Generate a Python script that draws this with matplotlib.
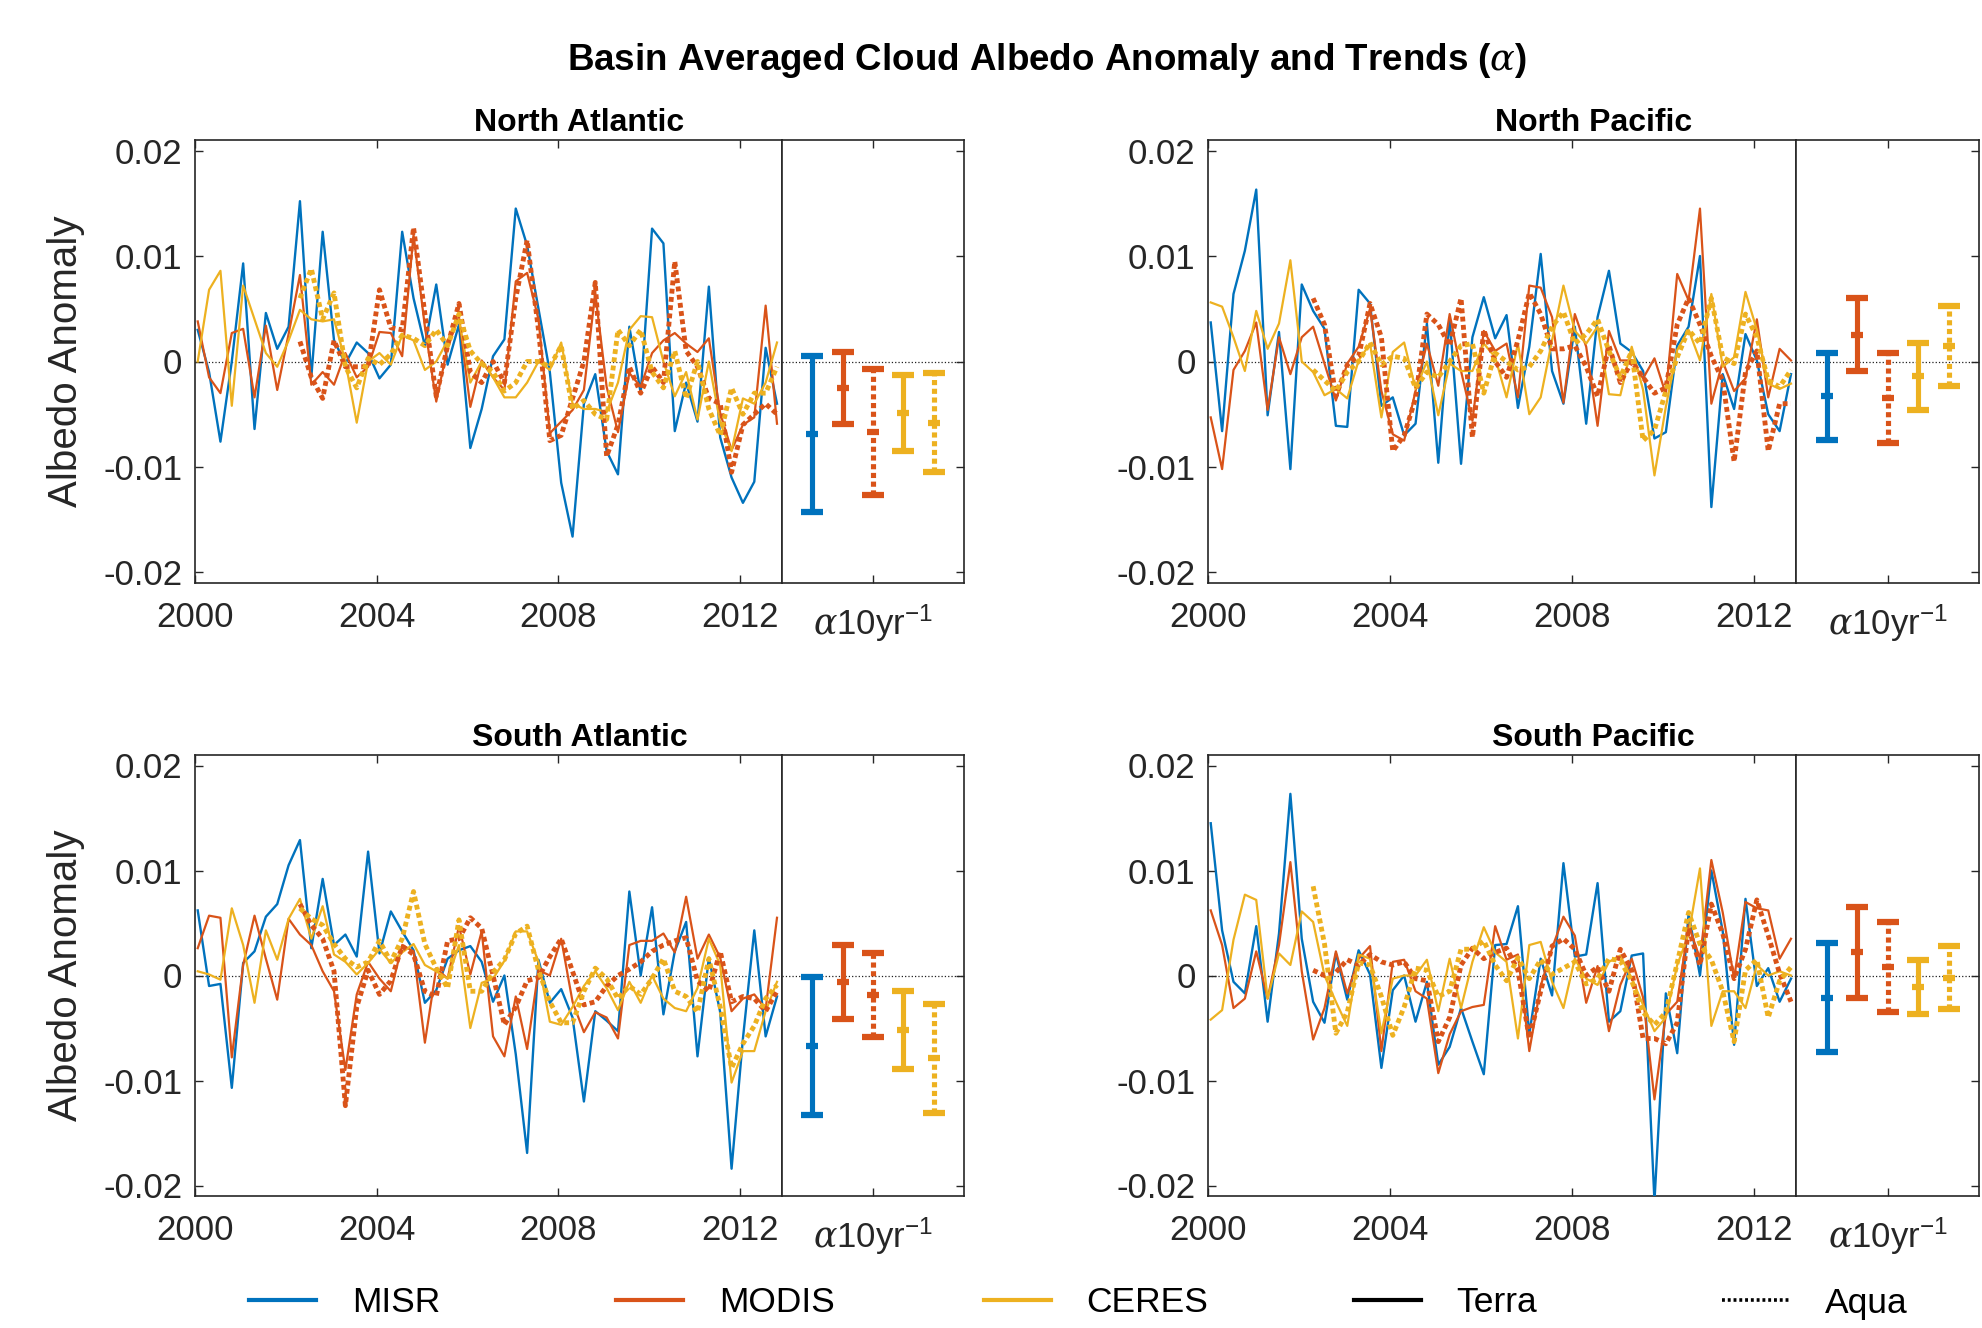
import numpy as np
import matplotlib
matplotlib.use("Agg")
import matplotlib.pyplot as plt
from matplotlib.lines import Line2D

plt.rcParams['font.family'] = ['Liberation Sans', 'DejaVu Sans']
plt.rcParams['axes.unicode_minus'] = False
plt.rcParams['mathtext.fontset'] = 'custom'
plt.rcParams['mathtext.rm'] = 'Liberation Sans'
plt.rcParams['mathtext.it'] = 'DejaVu Serif:italic'
plt.rcParams['mathtext.bf'] = 'Liberation Sans:bold'

# ---------------- data ----------------
# seasonal (quarterly) time stamps; Terra from 2000, Aqua from mid 2002
t_terra = 2000.06 + 0.25 * np.arange(52)
t_aqua = t_terra[9:]

na_misr = [0.003, -0.001, -0.0076, 0.0, 0.0093, -0.0064, 0.0046, 0.0012, 0.0033, 0.0152,
           -0.0015, 0.0123, 0.002, -0.0002, 0.0018, 0.0008, -0.0016, -0.0003, 0.0123, 0.006,
           0.0015, 0.0073, -0.0003, 0.0035, -0.0082, -0.0045, 0.0005, 0.0021, 0.0145, 0.011,
           0.005, -0.001, -0.0115, -0.0166, -0.004, -0.0012, -0.0085, -0.0107, 0.0033, -0.003,
           0.0126, 0.0112, -0.0066, -0.002, -0.0057, 0.0071, -0.0072, -0.011, -0.0134, -0.0114,
           0.0013, -0.004]
na_modis_terra = [0.0038, -0.0015, -0.003, 0.0027, 0.0031, -0.0034, 0.0034, -0.0027, 0.0026, 0.0082,
                  -0.0022, -0.001, -0.0022, 0.0008, -0.0015, -0.0005, 0.0028, 0.0027, 0.0005, 0.012,
                  0.0033, -0.0038, 0.0014, 0.0042, -0.0043, 0.0001, -0.0015, -0.0027, 0.0076, 0.0084,
                  0.004, -0.0068, -0.0057, -0.0046, -0.0027, 0.0065, -0.0024, -0.0067, -0.0011, -0.0024,
                  0.0008, 0.002, 0.0027, 0.0017, 0.0009, 0.0022, -0.0049, -0.0084, -0.006, -0.0053,
                  0.0053, -0.0059]
na_modis_aqua = [0.0019, -0.0015, -0.0035, 0.002, -0.0005, -0.0005, -0.0005, 0.0068, 0.0032, 0.003,
                 0.0127, 0.0045, -0.0033, 0.0015, 0.0055, -0.001, -0.002, 0.0, -0.002, 0.006,
                 0.0115, 0.003, -0.0075, -0.007, -0.0035, 0.0, 0.0075, -0.009, -0.006, -0.0005,
                 -0.003, -0.0005, -0.002, 0.0095, 0.001, -0.0005, -0.0035, -0.004, -0.0105, -0.006,
                 -0.005, -0.004, -0.005]
na_ceres_terra = [0.0, 0.0068, 0.0086, -0.0042, 0.0072, 0.004, 0.0008, -0.0005, 0.002, 0.0049,
                  0.004, 0.0038, 0.004, 0.0, -0.0058, 0.0, 0.0008, -0.0003, 0.0025, 0.002,
                  -0.0008, 0.0, 0.002, 0.004, -0.002, 0.0, -0.0015, -0.0034, -0.0034, -0.002,
                  0.0, -0.0008, 0.0018, -0.004, -0.0045, -0.0045, -0.0048, -0.002, 0.003, 0.0043,
                  0.0042, 0.0, -0.0033, -0.001, -0.0055, 0.0, -0.0058, -0.0085, -0.0035, -0.004,
                  -0.002, 0.0018]
na_ceres_aqua = [0.006, 0.0088, 0.004, 0.0065, -0.0005, -0.0025, 0.0003, -0.0003, 0.0007, 0.0025,
                 0.0022, 0.0015, 0.003, 0.0015, 0.0045, 0.001, -0.0002, -0.001, -0.0028, -0.002,
                 0.0, 0.0, -0.0005, 0.0015, -0.0045, -0.0037, -0.005, -0.0055, 0.003, 0.0015,
                 0.003, -0.001, -0.0025, 0.001, -0.0035, 0.0, -0.0045, -0.007, -0.0025, -0.005,
                 -0.003, -0.003, -0.0005]

np_misr = [0.0037, -0.0066, 0.0064, 0.0105, 0.0163, -0.0051, 0.0028, -0.0102, 0.0073, 0.0048,
           0.0031, -0.0061, -0.0062, 0.0068, 0.0055, -0.0042, -0.0034, -0.007, -0.0059, 0.0036,
           -0.0096, 0.004, -0.0097, 0.0023, 0.0061, 0.0022, 0.0044, -0.0044, 0.0014, 0.0102,
           -0.0009, -0.004, 0.0033, -0.0059, 0.0042, 0.0086, 0.0017, 0.0009, -0.0009, -0.0073,
           -0.0067, 0.0015, 0.0033, 0.01, -0.0138, -0.0012, -0.0045, 0.0026, 0.0001, -0.005,
           -0.0066, -0.0012]
np_modis_terra = [-0.0053, -0.0102, -0.0008, 0.001, 0.0037, -0.0046, 0.0023, -0.0012, 0.0023, 0.0033,
                  -0.0002, -0.0037, -0.0002, 0.0014, 0.005, -0.0028, -0.0069, -0.0075, -0.0028, 0.0017,
                  -0.0023, 0.0045, -0.0009, -0.0056, 0.0029, 0.001, 0.0017, -0.0034, 0.0072, 0.007,
                  0.0042, -0.0039, 0.0045, 0.0014, -0.0061, 0.0029, 0.0001, 0.0001, -0.0016, 0.0003,
                  -0.0031, 0.0083, 0.0058, 0.0145, -0.004, 0.0, -0.0028, -0.0016, 0.004, -0.0034,
                  0.0012, 0.0001]
np_modis_aqua = [0.006, 0.0035, -0.0033, -0.0003, 0.0005, 0.0055, 0.0023, -0.0085, -0.007, -0.0035,
                 0.0045, 0.0035, 0.0015, 0.006, -0.0072, 0.003, 0.0, -0.0015, 0.002, 0.0065,
                 0.0045, 0.0012, 0.0012, 0.0015, -0.0005, -0.0033, 0.0015, -0.002, 0.0, -0.0015,
                 -0.003, -0.0025, 0.0035, 0.006, 0.0035, 0.0005, -0.0018, -0.0095, -0.001, 0.001,
                 -0.0085, -0.004, -0.004]
np_ceres_terra = [0.0056, 0.0052, 0.0023, -0.0009, 0.0048, 0.0012, 0.0036, 0.0096, 0.0, -0.001,
                  -0.0032, -0.0026, -0.0035, 0.0001, 0.0017, -0.0053, 0.0009, 0.0018, -0.0026, 0.0,
                  -0.0051, -0.0002, -0.0009, -0.0009, 0.0017, 0.0004, -0.0034, 0.0017, -0.005, -0.0034,
                  0.002, 0.0072, 0.0029, 0.0017, 0.0033, -0.0031, -0.0032, 0.0014, -0.0027, -0.0108,
                  -0.0043, 0.0011, 0.003, 0.0001, 0.0064, -0.0005, 0.0004, 0.0066, 0.003, -0.0021,
                  -0.0026, -0.0021]
np_ceres_aqua = [-0.0008, -0.0018, -0.0028, -0.001, 0.0, 0.0018, -0.0003, 0.0005, 0.0003, -0.0025,
                 -0.001, -0.0015, 0.0, 0.0015, 0.0017, -0.003, 0.0008, 0.0, -0.0008, -0.0005,
                 0.001, 0.0033, 0.0047, 0.0017, 0.0026, 0.004, 0.001, -0.0015, 0.001, -0.0075,
                 -0.0065, -0.0028, 0.0004, 0.003, 0.0017, 0.006, 0.0004, -0.0002, 0.0045, 0.0023,
                 -0.0018, -0.0024, -0.0008]

sa_misr = [0.0062, -0.001, -0.0008, -0.0107, 0.0012, 0.0023, 0.0056, 0.0068, 0.0105, 0.0129,
           0.0026, 0.0092, 0.0029, 0.0039, 0.0018, 0.0118, 0.0021, 0.0061, 0.0042, 0.0024,
           -0.0026, -0.0014, 0.0016, 0.0024, 0.0028, 0.0013, -0.0025, 0.0, -0.0075, -0.0169,
           0.0015, -0.0026, -0.0013, -0.004, -0.012, -0.0034, -0.0043, -0.0053, 0.008, 0.0,
           0.0065, -0.0037, 0.0023, 0.0051, -0.0077, 0.0017, -0.0035, -0.0184, -0.006, 0.0043,
           -0.0058, -0.002]
sa_modis_terra = [0.0026, 0.0057, 0.0055, -0.0078, 0.001, 0.0057, 0.0016, -0.0023, 0.0054, 0.0039,
                  0.0029, 0.0004, -0.0015, -0.009, -0.0018, 0.0013, -0.0003, -0.0015, 0.0029, 0.0023,
                  -0.0064, 0.0007, -0.0003, 0.0047, 0.0001, 0.0042, -0.0058, -0.0077, -0.002, -0.007,
                  0.0005, 0.0, 0.0035, -0.0025, -0.0054, -0.0035, -0.004, -0.006, 0.0029, 0.0033,
                  0.0033, 0.004, 0.0022, 0.0075, 0.0016, 0.0039, 0.0017, -0.0034, -0.0022, -0.0018,
                  -0.0032, 0.0055]
sa_modis_aqua = [0.0068, 0.0048, 0.0035, 0.0004, -0.0124, -0.003, 0.0005, -0.0018, -0.0005, 0.0028,
                 0.002, -0.0015, -0.002, 0.0033, 0.0035, 0.0055, 0.0045, 0.0, -0.0047, -0.003,
                 -0.0005, -0.0002, 0.0018, 0.0035, 0.0004, -0.0028, -0.0025, -0.001, 0.0, 0.0006,
                 0.0013, 0.0023, 0.0029, 0.0033, 0.0036, -0.0005, -0.0015, 0.0023, -0.0025, -0.002,
                 -0.0022, -0.0034, -0.0015]
sa_ceres_terra = [0.0004, 0.0001, -0.0004, 0.0064, 0.0029, -0.0026, 0.0043, 0.0015, 0.0054, 0.0073,
                  0.0035, 0.0066, 0.002, 0.0013, 0.0001, 0.0012, 0.0025, 0.0012, 0.0022, 0.003,
                  0.001, 0.0004, -0.0003, 0.0029, -0.005, -0.0007, -0.0003, 0.0014, 0.0042, 0.0042,
                  0.0013, -0.0044, -0.0047, -0.003, -0.001, 0.0004, -0.0012, -0.0033, -0.0006, -0.0026,
                  0.0, -0.0022, -0.0031, -0.0034, -0.0012, 0.0035, 0.001, -0.0102, -0.0072, -0.0072,
                  -0.0034, -0.0006]
sa_ceres_aqua = [0.0064, 0.0054, 0.0048, 0.003, 0.0016, 0.0008, 0.0013, 0.0033, 0.0013, 0.0035,
                 0.008, 0.003, 0.0007, -0.0012, 0.0053, -0.0015, -0.0015, 0.0003, 0.0015, 0.004,
                 0.0047, 0.0005, -0.0025, -0.0045, -0.0045, -0.0015, 0.0007, -0.0003, -0.0022, -0.001,
                 -0.0018, -0.0003, 0.0016, -0.0015, -0.002, -0.0035, 0.0016, -0.003, -0.0088, -0.0065,
                 -0.0048, -0.0022, -0.0009]

sp_misr = [0.0145, 0.0043, -0.0006, -0.0017, 0.0047, -0.0044, 0.004, 0.0173, 0.0035, -0.0025,
           -0.0045, 0.0021, -0.0023, 0.0024, 0.0001, -0.0088, -0.0014, 0.0, -0.0044, -0.0006,
           -0.0085, -0.0068, -0.0031, -0.0063, -0.0094, 0.0029, 0.003, 0.0066, -0.0056, 0.0016,
           -0.0019, 0.0107, 0.0018, 0.002, 0.0088, -0.0044, -0.0034, 0.0019, 0.0021, -0.0215,
           -0.0017, -0.0074, 0.0059, 0.0, 0.01, 0.0042, -0.0066, 0.0073, -0.001, 0.0007,
           -0.0025, -0.0003]
sp_modis_terra = [0.0062, 0.0029, -0.0031, -0.0022, 0.0023, -0.0022, 0.0029, 0.0108, 0.0004, -0.0061,
                  -0.0031, 0.0023, -0.0017, 0.0016, 0.0028, -0.0072, 0.0013, 0.0015, -0.0015, -0.0022,
                  -0.0093, -0.0056, -0.0034, -0.003, -0.0028, 0.0047, 0.0015, 0.002, -0.0072, -0.001,
                  0.0026, 0.0056, 0.0038, -0.0026, 0.0009, -0.0053, -0.0009, 0.0016, -0.0021, -0.0118,
                  -0.0037, -0.0025, 0.0048, 0.0016, 0.011, 0.006, -0.0003, 0.007, 0.0064, 0.0062,
                  0.0016, 0.0035]
sp_modis_aqua = [0.0005, 0.0, 0.0003, 0.0015, 0.001, 0.002, 0.0013, 0.001, 0.0013, -0.0003,
                 -0.0005, -0.0063, -0.004, 0.001, 0.0026, 0.0016, 0.0022, 0.0026, 0.0005, -0.006,
                 -0.0015, 0.0028, 0.0035, 0.0025, 0.0, 0.0008, -0.0015, 0.0025, 0.0005, -0.006,
                 -0.006, -0.0065, -0.0045, 0.0045, 0.001, 0.0068, 0.004, -0.0003, 0.0025, 0.0072,
                 0.0038, 0.0002, -0.0025]
sp_ceres_terra = [-0.0042, -0.0033, 0.0034, 0.0077, 0.0072, -0.0022, 0.0021, 0.001, 0.0061, 0.0051,
                  0.0, -0.0025, -0.0048, 0.002, 0.0016, -0.0055, -0.0003, 0.0, 0.0, 0.0015,
                  -0.0034, 0.0016, -0.0031, 0.0013, 0.0046, 0.0022, 0.0013, -0.006, 0.0029, 0.0032,
                  -0.0006, -0.0031, 0.0016, -0.0003, -0.0009, 0.0013, 0.0019, -0.0003, -0.0028, -0.0053,
                  -0.004, 0.001, 0.0039, 0.0102, -0.0048, -0.0015, -0.0015, -0.0031, 0.001, 0.0,
                  0.0004, 0.0]
sp_ceres_aqua = [0.0085, 0.003, -0.0055, -0.0035, 0.0012, 0.001, -0.002, -0.0057, -0.003, 0.0007,
                 0.0005, -0.002, -0.0015, 0.0025, 0.0025, 0.0033, 0.001, -0.0005, 0.0017, -0.0003,
                 0.0015, 0.0001, 0.0007, 0.0013, -0.0008, -0.0003, 0.0016, 0.0014, -0.0005, -0.0035,
                 -0.0047, -0.0035, 0.0012, 0.006, 0.003, 0.0015, -0.0015, -0.0063, 0.0005, 0.0015,
                 -0.004, -0.0005, 0.0008]

# trends (alpha per 10 yr): centre and half-width of the interval
# order: MISR, MODIS Terra, MODIS Aqua, CERES Terra, CERES Aqua
na_trend = [-0.0069, -0.0025, -0.0067, -0.0049, -0.0058]
na_trend_err = [0.0074, 0.0034, 0.0060, 0.0036, 0.0047]
np_trend = [-0.0033, 0.00255, -0.00345, -0.0014, 0.0015]
np_trend_err = [0.0041, 0.00345, 0.00425, 0.0032, 0.0038]
sa_trend = [-0.0067, -0.0006, -0.0019, -0.0052, -0.0079]
sa_trend_err = [0.0066, 0.0035, 0.0040, 0.0037, 0.0052]
sp_trend = [-0.0021, 0.0022, 0.0008, -0.0011, -0.0002]
sp_trend_err = [0.0052, 0.0043, 0.0043, 0.0026, 0.0030]

basins = ['North Atlantic', 'North Pacific', 'South Atlantic', 'South Pacific']
instruments = ['MISR', 'MODIS', 'CERES']
platforms = ['Terra', 'Aqua']
year_ticks = [2000, 2004, 2008, 2012]
y_ticks = [-0.02, -0.01, 0, 0.01, 0.02]
y_ticklabels = ['-0.02', '-0.01', '0', '0.01', '0.02']

# ---------------- style ----------------
C_MISR = '#0072BD'
C_MODIS = '#D95319'
C_CERES = '#EDB120'
AX_C = '#262626'
DOT = (0, (1, 0.7))

W, H = 1982, 1328
fig = plt.figure(figsize=(W / 100, H / 100), dpi=100)

# pixel geometry of panels: (left, divider, right, top, bottom)
geom = {
    'North Atlantic': (195, 782, 964, 140, 583),
    'North Pacific': (1208, 1796, 1979, 140, 583),
    'South Atlantic': (195, 782, 964, 755, 1196),
    'South Pacific': (1208, 1796, 1979, 755, 1196),
}

data = {
    'North Atlantic': (na_misr, na_modis_terra, na_modis_aqua, na_ceres_terra, na_ceres_aqua, na_trend, na_trend_err),
    'North Pacific': (np_misr, np_modis_terra, np_modis_aqua, np_ceres_terra, np_ceres_aqua, np_trend, np_trend_err),
    'South Atlantic': (sa_misr, sa_modis_terra, sa_modis_aqua, sa_ceres_terra, sa_ceres_aqua, sa_trend, sa_trend_err),
    'South Pacific': (sp_misr, sp_modis_terra, sp_modis_aqua, sp_ceres_terra, sp_ceres_aqua, sp_trend, sp_trend_err),
}

TICK_FS = 25
YLIM = (-0.021, 0.021)


def style_axes(ax):
    for s in ax.spines.values():
        s.set_color(AX_C)
        s.set_linewidth(1.2)
    ax.tick_params(colors=AX_C, labelcolor=AX_C, labelsize=TICK_FS, direction='in',
                   length=6, width=1.0)


for name in basins:
    L, D, R, T, B = geom[name]
    misr, mod_t, mod_a, cer_t, cer_a, tr, tr_e = data[name]

    ax = fig.add_axes([L / W, 1 - B / H, (D - L) / W, (B - T) / H])
    axt = fig.add_axes([D / W, 1 - B / H, (R - D) / W, (B - T) / H])

    # time series
    ax.axhline(0, color='#202020', lw=0.9, ls=':', zorder=1)
    ax.plot(t_terra, misr, color=C_MISR, lw=1.7, zorder=3)
    ax.plot(t_terra, mod_t, color=C_MODIS, lw=1.6, zorder=3)
    ax.plot(t_aqua, mod_a, color=C_MODIS, lw=3.5, ls=DOT, zorder=4)
    ax.plot(t_terra, cer_t, color=C_CERES, lw=1.6, zorder=3)
    ax.plot(t_aqua, cer_a, color=C_CERES, lw=3.5, ls=DOT, zorder=4)
    ax.set_xlim(2000, 2012.92)
    ax.set_ylim(*YLIM)
    ax.set_xticks(year_ticks)
    ax.set_xticklabels([str(y) for y in year_ticks])
    ax.set_yticks(y_ticks)
    ax.set_yticklabels(y_ticklabels)
    style_axes(ax)
    ax.tick_params(axis='x', top=True, bottom=True, pad=13)
    ax.tick_params(axis='y', left=True, right=False, pad=9)

    # trends
    axt.axhline(0, color='#202020', lw=0.9, ls=':', zorder=1)
    cols = [C_MISR, C_MODIS, C_MODIS, C_CERES, C_CERES]
    aqua = [False, False, True, False, True]
    for i in range(5):
        eb = axt.errorbar([i + 1], [tr[i]], yerr=[tr_e[i]], fmt='_', color=cols[i],
                          ms=8, mew=4.5, elinewidth=3.7, capsize=8, capthick=3.7, zorder=3)
        if aqua[i]:
            eb[2][0].set_linestyle(DOT)
    axt.set_xlim(0, 6)
    axt.set_ylim(*YLIM)
    axt.set_xticks([3])
    axt.set_xticklabels([r'$\alpha$10yr$^{-1}$'])
    axt.set_yticks(y_ticks)
    axt.set_yticklabels([])
    style_axes(axt)
    axt.tick_params(axis='x', top=True, bottom=True, pad=14)
    axt.tick_params(axis='y', left=False, right=True)

    # panel title
    fig.text(((L + R) / 2) / W, 1 - (T - 17) / H, name, ha='center', va='center',
             fontsize=23, fontweight='bold', color='black')

    if L < 500:
        fig.text(66 / W, 1 - ((T + B) / 2) / H, 'Albedo Anomaly', rotation=90,
                 ha='center', va='center', fontsize=29, color=AX_C)

fig.text(1047 / W, 1 - 60 / H, r'Basin Averaged Cloud Albedo Anomaly and Trends ($\alpha$)',
         ha='center', va='center', fontsize=26.5, fontweight='bold', color='black')

# legend: five equally spaced entries
legend_items = [
    (Line2D([], [], color=C_MISR, lw=3.0), instruments[0], 249),
    (Line2D([], [], color=C_MODIS, lw=3.0), instruments[1], 616),
    (Line2D([], [], color=C_CERES, lw=3.0), instruments[2], 984),
    (Line2D([], [], color='black', lw=3.0), platforms[0], 1354),
    (Line2D([], [], color='black', lw=2.6, ls=(0, (0.8, 0.8))), platforms[1], 1722),
]
for h, lab, xp in legend_items:
    fig.legend([h], [lab], loc='center left', bbox_to_anchor=(xp / W, 1 - 1303 / H),
               frameon=False, borderpad=0, borderaxespad=0, handlelength=1.9,
               handletextpad=1.0, fontsize=25.5, labelcolor='black')

fig.savefig('out.png', dpi=100)
